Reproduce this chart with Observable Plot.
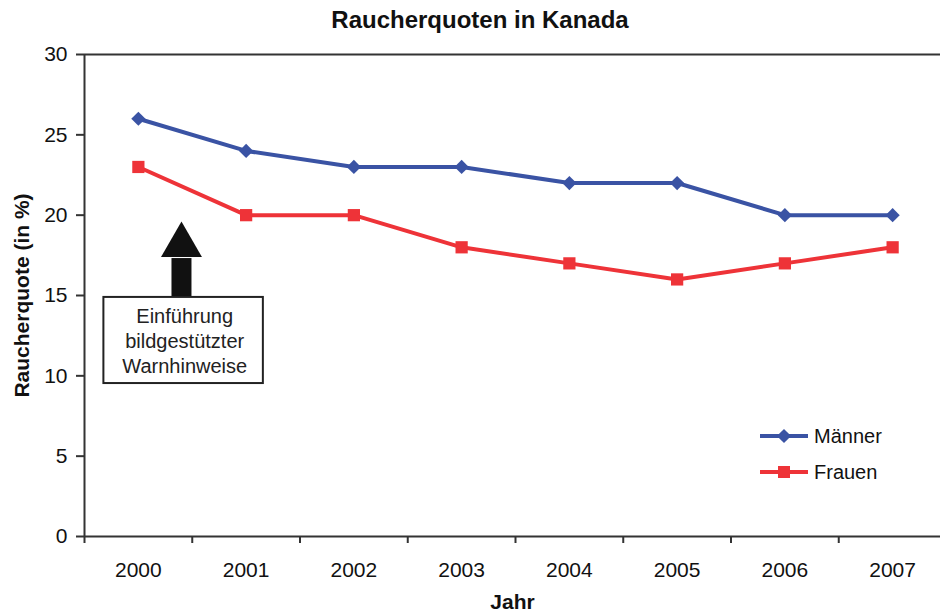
<!DOCTYPE html>
<html><head><meta charset="utf-8">
<script src="https://cdn.jsdelivr.net/npm/d3@7"></script>
<script src="https://cdn.jsdelivr.net/npm/@observablehq/plot@0.6"></script>
<style>
body{margin:0;background:#fff;font-family:"Liberation Sans",Arial,Helvetica,sans-serif;}
#wrap{position:relative;width:940px;height:613px;overflow:hidden;background:#fff;}
#title{height:40px;line-height:40px;font-size:24px;font-weight:bold;text-align:center;padding-left:20px;box-sizing:border-box;width:940px;color:#111;}
#legend{position:absolute;left:0;top:0;pointer-events:none;}
</style></head>
<body>
<div id="wrap">
<div id="title">Raucherquoten in Kanada</div>
<div id="chart"></div>
<svg id="legend" width="940" height="613"></svg>
</div>
<script>
const years = [2000, 2001, 2002, 2003, 2004, 2005, 2006, 2007];
const maenner = [26, 24, 23, 23, 22, 22, 20, 20];
const frauen = [23, 20, 20, 18, 17, 16, 17, 18];
const seriesNames = ["Männer", "Frauen"];
const seriesColors = ["#3a53a4", "#ee3338"];
const yTicks = [0, 5, 10, 15, 20, 25, 30];
const xBounds = [1999.5, 2000.5, 2001.5, 2002.5, 2003.5, 2004.5, 2005.5, 2006.5, 2007.5];
const yLabel = "Raucherquote (in %)";
const xLabel = "Jahr";
const noteLines = ["Einführung", "bildgestützter", "Warnhinweise"];
const noteBox = [{x1: 1999.68, x2: 2001.16, y1: 9.52, y2: 14.88}];
const arrowShaft = [{x: 2000.40, y1: 14.88, y2: 17.3}];
const arrowHead = [{x: 2000.40, y: 18.13}];
const noteText = [{x: 2000.43, y: 12.2, text: noteLines.join("\n")}];

const rowsM = years.map((yr, i) => ({year: yr, value: maenner[i]}));
const rowsF = years.map((yr, i) => ({year: yr, value: frauen[i]}));

const font = '"Liberation Sans", Arial, Helvetica, sans-serif';

const chart = Plot.plot({
  width: 940,
  height: 573,
  marginLeft: 84,
  marginRight: 0,
  marginTop: 14,
  marginBottom: 77,
  x: {type: "linear", domain: [1999.5, 2007.5], range: [84, 946]},
  y: {domain: [0, 30]},
  style: {fontFamily: font, fontSize: "21px", color: "#111", background: "white", overflow: "visible"},
  marks: [
    Plot.axisY({ticks: yTicks, tickSize: 8, tickPadding: 9, label: null, fontSize: 21, stroke: "#333", strokeWidth: 2}),
    Plot.axisX({ticks: xBounds, tickSize: 7, tickFormat: () => "", label: null, stroke: "#333", strokeWidth: 2}),
    Plot.axisX({ticks: years, tickSize: 0, tickPadding: 26, tickFormat: d => String(d), label: null, fontSize: 21}),
    Plot.ruleY([0, 30], {stroke: "#333", strokeWidth: 2}),
    Plot.ruleX([1999.5], {stroke: "#333", strokeWidth: 2}),
    Plot.line(rowsM, {x: "year", y: "value", stroke: seriesColors[0], strokeWidth: 4}),
    Plot.line(rowsF, {x: "year", y: "value", stroke: seriesColors[1], strokeWidth: 4}),
    Plot.dot(rowsM, {x: "year", y: "value", fill: seriesColors[0], symbol: "diamond2", r: 6.4}),
    Plot.dot(rowsF, {x: "year", y: "value", fill: seriesColors[1], symbol: "square", r: 6.9}),
    Plot.ruleX(arrowShaft, {x: "x", y1: "y1", y2: "y2", stroke: "#111", strokeWidth: 20}),
    Plot.dot(arrowHead, {x: "x", y: "y", symbol: "triangle", r: 15.2, fill: "#111", stroke: "none"}),
    Plot.rect(noteBox, {x1: "x1", x2: "x2", y1: "y1", y2: "y2", fill: "white", stroke: "#222", strokeWidth: 2}),
    Plot.text(noteText, {x: "x", y: "y", text: "text", fontSize: 20, lineHeight: 1.25, fill: "#222"}),
    Plot.text([yLabel], {text: d => d, frameAnchor: "left", dx: -62, rotate: -90, textAnchor: "middle", lineAnchor: "middle", fontWeight: "bold", fontSize: 21, fill: "#111"}),
    Plot.text([xLabel], {text: d => d, frameAnchor: "bottom", dy: 66, textAnchor: "middle", lineAnchor: "middle", fontWeight: "bold", fontSize: 21, fill: "#111"})
  ]
});
document.getElementById("chart").appendChild(chart);

// Legend
const leg = d3.select("#legend");
const legendItems = [
  {name: seriesNames[0], color: seriesColors[0], sym: d3.symbolDiamond2, size: 129, y: 436},
  {name: seriesNames[1], color: seriesColors[1], sym: d3.symbolSquare, size: 144, y: 472}
];
legendItems.forEach(it => {
  leg.append("line").attr("x1", 760).attr("x2", 808).attr("y1", it.y).attr("y2", it.y)
    .attr("stroke", it.color).attr("stroke-width", 4);
  leg.append("path").attr("d", d3.symbol(it.sym, it.size)())
    .attr("transform", `translate(784,${it.y})`).attr("fill", it.color);
  leg.append("text").attr("x", 814).attr("y", it.y + 7).text(it.name)
    .attr("font-family", font).attr("font-size", 20).attr("fill", "#111");
});
</script>
</body></html>
